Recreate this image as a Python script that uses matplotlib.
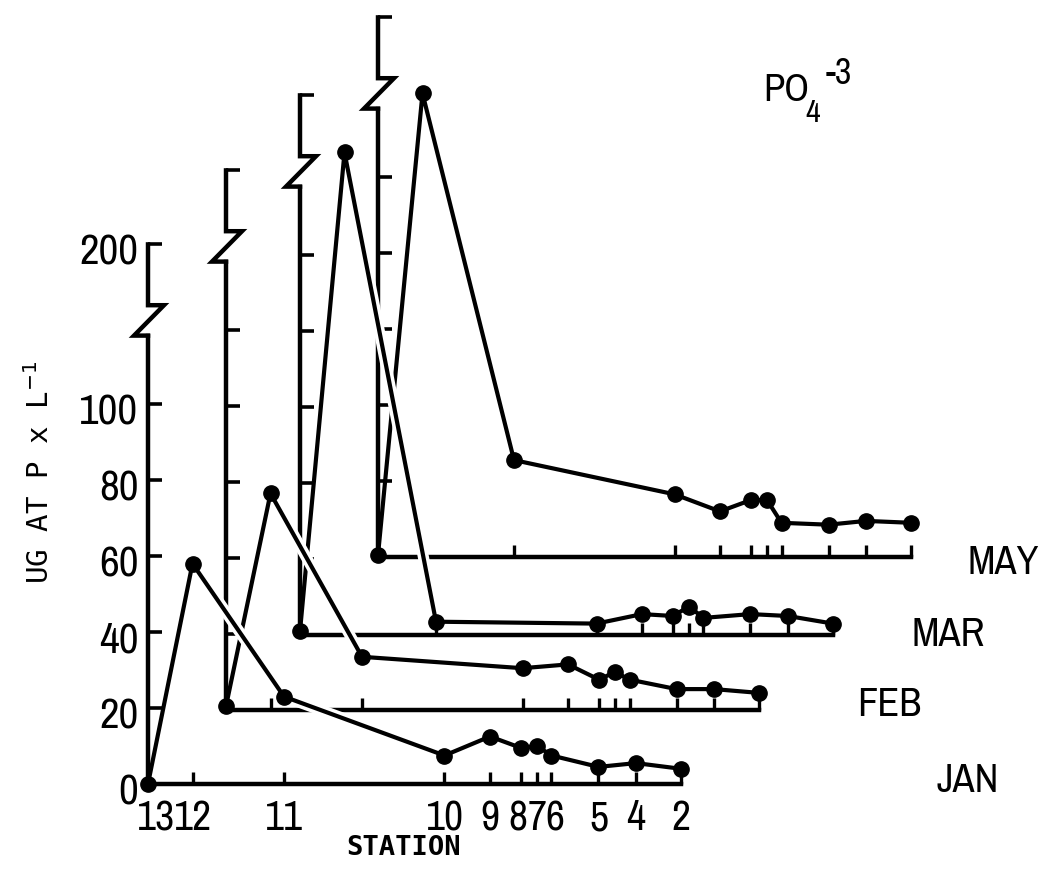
#!/usr/bin/env python3
"""Staggered PO4-3 profiles along the station transect, one offset axis per month."""

import numpy as np
import matplotlib

matplotlib.use("Agg")
import matplotlib.pyplot as plt
from matplotlib import font_manager
from matplotlib.transforms import ScaledTranslation, blended_transform_factory


STATIONS = ["13", "12", "11", "10", "9", "8", "7", "6", "5", "4", "2"]
# distance along the transect (relative units, station 13 = 0)
STATION_DIST = [0, 44.5, 136, 296.5, 342, 373, 389, 403.5, 450.5, 488, 533]

MONTHS = ["JAN", "FEB", "MAR", "MAY"]
JAN = [0, 58, 23, 7.5, 12.5, 9.5, 10, 7.5, 4.5, 5.5, 4]
FEB = [1, 57, 14, 11, 12, 8, 10, 8, 5.5, 5.5, 4.5]
MAR = [1, 127, 3.5, 3, 5.5, 5, 7.5, 4.5, 5.5, 5, 3]
MAY = [0.5, 122, 25.5, 16.5, 12, 15, 15, 9, 8.5, 9.5, 9]

Y_TICKS = [0, 20, 40, 60, 80, 100, 200]
Y_TICK_LABELS = ["0", "20", "40", "60", "80", "100", "200"]

# layout (pixels of the 1040x896 output)
W, H = 1040, 896
ORIGINS = {"JAN": (148, 784), "FEB": (226, 710), "MAR": (300, 635), "MAY": (378, 557)}
LABEL_POS = {"JAN": (968, 780), "FEB": (889, 705), "MAR": (948, 634), "MAY": (1003, 562)}
PX_PER_UNIT = 3.8
AX_WIDTH_PX = 533
# small sideways nudges (px) for crowded station labels
LABEL_NUDGE = {0: 8, 5: -3, 7: 3}

# axis break: linear up to 128, compressed above so 200 sits just over the break
LIN_TOP = 128.0
K = 0.1944


def fwd(v):
    v = np.asarray(v, dtype=float)
    return np.where(v <= LIN_TOP, v, LIN_TOP + (v - LIN_TOP) * K)


def inv(u):
    u = np.asarray(u, dtype=float)
    return np.where(u <= LIN_TOP, u, LIN_TOP + (u - LIN_TOP) / K)


def narrow_font():
    """Pick a condensed sans if one is installed, else Liberation Sans."""
    fonts = font_manager.fontManager.ttflist
    for f in fonts:
        if ("Narrow" in f.name or "Condensed" in f.name) and "Mono" not in f.name:
            return {"family": f.name, "stretch": "normal"}
    for f in fonts:
        if f.stretch in ("condensed", "semi-condensed", "extra-condensed") and "Mono" not in f.name:
            return {"family": f.name, "stretch": f.stretch}
    return {"family": "Liberation Sans", "stretch": "normal"}


NARROW = narrow_font()
plt.rcParams["font.family"] = [NARROW["family"], "DejaVu Sans"]
plt.rcParams["font.stretch"] = NARROW["stretch"]

fig = plt.figure(figsize=(W / 100, H / 100), dpi=100)
fig.patch.set_facecolor("white")

values = {"JAN": JAN, "FEB": FEB, "MAR": MAR, "MAY": MAY}
ax_height_px = float(fwd(200)) * PX_PER_UNIT

for order, month in enumerate(MONTHS):
    ox, by = ORIGINS[month]
    ax = fig.add_axes([ox / W, 1 - by / H, AX_WIDTH_PX / W, ax_height_px / H])
    ax.set_zorder(10 - order)
    ax.patch.set_visible(False)
    ax.set_yscale("function", functions=(fwd, inv))
    ax.set_xlim(0, STATION_DIST[-1])
    ax.set_ylim(0, 200)

    for side in ("top", "right"):
        ax.spines[side].set_visible(False)
    ax.spines["left"].set_linewidth(3.2)
    ax.spines["bottom"].set_linewidth(3.2)
    ax.spines["left"].set_bounds(0, 118)

    # broken y axis: zigzag then bracket up to the 200 tick
    trans = blended_transform_factory(ax.transAxes, ax.transData)
    ax.plot([0, -14 / AX_WIDTH_PX, 16 / AX_WIDTH_PX, 0, 0], [118, 118, 126, 126, 200],
            color="black", lw=3.2, transform=trans, clip_on=False, zorder=2.5,
            solid_joinstyle="miter")

    vals = values[month]
    # white underlay hides the axes of the months behind
    ax.plot(STATION_DIST, vals, color="white", lw=8, zorder=1, clip_on=False)
    ax.plot(STATION_DIST, vals, color="black", lw=3, zorder=3, clip_on=False)
    ax.plot(STATION_DIST, vals, "o", color="black", ms=11, zorder=4, clip_on=False)

    ax.tick_params(axis="x", direction="in", length=9, width=2.4, pad=11, labelsize=30)
    ax.tick_params(axis="y", direction="in", length=10, width=2.6, pad=7, labelsize=31)
    ax.yaxis.set_minor_locator(matplotlib.ticker.NullLocator())

    if month == "JAN":
        ax.set_xticks(STATION_DIST, STATIONS)
        ax.set_yticks(Y_TICKS, Y_TICK_LABELS)
        down = ScaledTranslation(0, -0.05, fig.dpi_scale_trans)
        for lab in ax.get_yticklabels():
            lab.set_transform(lab.get_transform() + down)
        xlabels = ax.get_xticklabels()
        for idx, dx in LABEL_NUDGE.items():
            shift = ScaledTranslation(dx / 100, 0, fig.dpi_scale_trans)
            xlabels[idx].set_transform(xlabels[idx].get_transform() + shift)
    else:
        ax.set_xticks(STATION_DIST[1:], [""] * (len(STATION_DIST) - 1))
        ax.set_yticks(Y_TICKS[1:], [""] * (len(Y_TICKS) - 1))

    lx, ly = LABEL_POS[month]
    fig.text(lx / W, 1 - ly / H, month, ha="center", va="center", fontsize=29)

fig.text(40 / W, 1 - 472 / H, r"UG AT P x L$^{-1}$", rotation=90, ha="center",
         va="center", family="DejaVu Sans Mono", stretch="normal", fontsize=21)
fig.text(404 / W, 1 - 848 / H, "STATION", ha="center", va="center",
         family="DejaVu Sans Mono", stretch="normal", fontweight="bold", fontsize=19.5)

fig.text(763 / W, 1 - 101 / H, "PO", ha="left", va="baseline", fontsize=28)
fig.text(805 / W, 1 - 122 / H, "4", ha="left", va="baseline", fontsize=23)
fig.text(826 / W, 1 - 84 / H, "-3", ha="left", va="baseline", fontsize=26)

fig.savefig("out.png", dpi=100)
